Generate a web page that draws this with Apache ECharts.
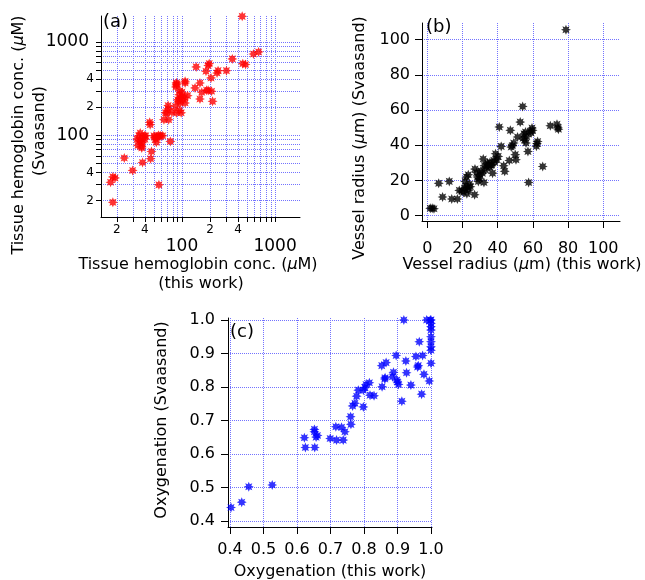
<!DOCTYPE html>
<html>
<head>
<meta charset="utf-8">
<script src="https://cdn.jsdelivr.net/npm/echarts@6/dist/echarts.min.js"></script>
<style>
    html, body { margin: 0; padding: 0; background: #fff; }
    #chart { width: 645px; height: 580px; }
</style>
</head>
<body>
<div id="chart"></div>
<script>
// MARK: - Data

// (a) tissue hemoglobin conc. (uM), this work vs Svaasand
const hbThisWork = [17.1, 18.1, 19.1, 18.1, 24, 29.5, 37.7, 46, 47, 56.5, 75,
    33, 33.6, 34.5, 35.6, 36, 36.7, 37, 37.5, 38.5, 39.5, 40.8, 40, 35,
    50, 52, 53, 54, 57, 59, 62, 51, 56,
    45, 45.5, 64, 72, 66.5, 69, 71, 71, 78, 85, 87, 94, 98, 96, 108,
    87, 87, 88, 86, 93, 96, 100, 103, 107, 115, 95, 100, 90, 92,
    108, 108, 156, 138, 156, 163, 184, 191, 208, 213, 205, 181, 142, 196, 191, 244, 238, 300, 347, 450, 481, 585, 665, 443];
const hbSvaasand = [31.3, 35.8, 34.9, 19.1, 57, 42, 51, 56, 67, 29.4, 86,
    91, 78, 99, 106, 85, 76, 73, 83, 95, 99, 99, 91, 88,
    99, 91, 84, 97, 97, 99, 99, 95, 100,
    138, 130, 147, 147, 174, 174, 192, 208, 177, 205, 174, 185, 174, 222, 222,
    347, 365, 355, 330, 272, 250, 262, 240, 255, 266, 300, 290, 240, 231,
    379, 364, 364, 322, 245, 289, 303, 303, 296, 231, 412, 485, 541, 586, 560, 493, 466, 493, 659, 586, 573, 745, 783, 1884];

// (b) vessel radius (um)
const radiusThisWork = [1.7, 2.8, 3.8, 6.5, 8.7, 12.5, 13.9, 17.1,
    18.2, 19.7, 20.5, 21.2, 21.5, 22.0, 22.3, 22.8, 23.3, 23.5, 24.0, 24.5, 22.5,
    26.9, 27.1, 28.0, 28.5, 29.0, 29.5, 29.9, 30.5, 31.3, 31.8, 32.2, 32.5, 33.1, 33.7, 34.3, 34.7, 35.2, 35.6, 36.2, 36.6,
    37.1, 37.8, 38.4, 38.8, 39.5, 40.3, 40.9, 42.0, 43.4, 44.0, 46.6, 47.2, 47.7, 48.3, 49.1, 50.0, 50.4, 51.3, 52.8, 54.2,
    54.5, 55.0, 55.3, 55.8, 56.1, 56.5, 57.2, 57.6, 58.5, 59.0, 59.5, 59.8, 62.0, 62.3, 62.7, 65.6, 69.9, 73.7, 74.2, 74.5, 78.8];
const radiusSvaasand = [4.2, 4.2, 4.0, 18.4, 10.6, 19.5, 9.5, 9.5,
    14.4, 14.0, 13.4, 15.5, 19.5, 17.0, 22.0, 16.0, 23.3, 14.5, 18.0, 16.5, 12.5,
    11.9, 26.5, 24.5, 22.0, 19.5, 21.0, 23.3, 25.5, 24.2, 32.2, 18.9, 28.5, 26.0, 28.0, 30.0, 29.0, 27.5, 30.3, 28.5, 29.0,
    24.2, 31.5, 30.3, 35.2, 32.0, 33.7, 50.4, 39.4, 28.4, 25.2, 31.4, 48.5, 39.0, 39.8, 41.3, 34.7, 31.8, 44.7, 53.2, 62.1,
    44.0, 46.5, 43.0, 47.5, 41.3, 45.0, 36.5, 18.9, 48.0, 47.0, 49.8, 48.5, 39.5, 41.0, 42.2, 28.0, 51.1, 52.0, 50.0, 49.2, 105.7];

// (c) oxygenation
const oxyThisWork = [0.403, 0.435, 0.456, 0.526, 0.622, 0.625, 0.652, 0.652, 0.653, 0.657,
    0.661, 0.699, 0.716, 0.718, 0.733, 0.738, 0.743, 0.760, 0.761, 0.766,
    0.773, 0.778, 0.783, 0.798, 0.798, 0.803, 0.806, 0.816, 0.818, 0.830,
    0.853, 0.854, 0.863, 0.866, 0.862, 0.885, 0.888, 0.896, 0.898, 0.903,
    0.900, 0.913, 0.919, 0.925, 0.927, 0.940, 0.955, 0.962, 0.960, 0.965,
    0.972, 0.975, 0.979, 0.987, 0.995, 0.998, 1.0, 1.0, 1.0, 1.0, 1.0, 1.0, 1.0, 1.0, 1.0];
const oxySvaasand = [0.441, 0.457, 0.503, 0.508, 0.649, 0.620, 0.674, 0.667, 0.620, 0.651,
    0.656, 0.647, 0.682, 0.642, 0.680, 0.642, 0.667, 0.712, 0.689, 0.744,
    0.752, 0.773, 0.791, 0.741, 0.791, 0.798, 0.808, 0.813, 0.776, 0.774,
    0.864, 0.801, 0.828, 0.873, 0.824, 0.831, 0.844, 0.894, 0.821, 0.808,
    0.815, 0.758, 1.0, 0.878, 0.843, 0.806, 0.891, 0.864, 0.860, 0.935,
    0.779, 0.894, 0.838, 1.0, 0.818, 1.0, 1.0, 0.99, 0.98, 0.97, 0.95, 0.935, 0.92, 0.91, 0.871];

// tick positions / labels
const logGridTicks = [20, 30, 40, 50, 60, 70, 80, 90, 100, 200, 300, 400, 500, 600, 700, 800, 900, 1000];
const logLabels = [20, 40, 100, 200, 400, 1000];
const logDecades = [100, 1000];
const radiusTicks = [0, 20, 40, 60, 80, 100];
const oxyTicks = [0.4, 0.5, 0.6, 0.7, 0.8, 0.9, 1.0];


// MARK: - Styles

const FONT = 'DejaVu Sans';
const STAR = 'path://M20 10 L15.08 12.1 L17.07 17.07 L12.1 15.08 L10 20 L7.9 15.08 L2.93 17.07 L4.92 12.1 L0 10 L4.92 7.9 L2.93 2.93 L7.9 4.92 L10 0 L12.1 4.92 L17.07 2.93 L15.08 7.9 Z';
const GRID_BLUE = '#7373ff';

function blackLine() {
    return {color: '#000', width: 1};
}

function gridLine() {
    return {show: true, lineStyle: {color: GRID_BLUE, type: 'dotted', width: 1, opacity: 1}};
}


// MARK: - Axis builders

function zip(xs, ys) {
    return xs.map((x, i) => [x, ys[i]]);
}

function logDataAxis(gridIndex, min, max) {
    return {type: 'log', logBase: 10, gridIndex: gridIndex, min: min, max: max, show: false};
}

// value axis in log10 units on its own overlay grid: ticks, labels and grid lines of panel (a)
function logDecorAxis(dim, gridIndex, min, max) {
    let isX = dim === 'x';
    return {
        type: 'value',
        gridIndex: gridIndex,
        min: Math.log10(min),
        max: Math.log10(max),
        axisLine: {show: true, onZero: false, lineStyle: blackLine()},
        axisTick: {show: true, length: 5, customValues: logGridTicks.map(v => Math.log10(v)), lineStyle: blackLine()},
        axisLabel: {
            customValues: logLabels.map(v => Math.log10(v)),
            hideOverlap: false,
            formatter: v => {
                let n = Math.round(Math.pow(10, v));
                let s = String(n);
                // decades get the big label, the rest only show their leading digit
                return logDecades.indexOf(n) >= 0 ? '{maj|' + s + '}' : '{min|' + s.charAt(0) + '}';
            },
            margin: 7,
            color: '#000',
            rich: {
                maj: {fontFamily: FONT, fontSize: 17, color: '#000', padding: isX ? [14, 0, 0, 0] : [0, 5, 0, 0]},
                min: {fontFamily: FONT, fontSize: 12, color: '#000'}
            }
        },
        splitLine: gridLine()
    };
}

function linearAxis(gridIndex, min, max, ticks, margin, digits) {
    return {
        type: 'value',
        gridIndex: gridIndex,
        min: min,
        max: max,
        axisLine: {show: true, onZero: false, lineStyle: blackLine()},
        axisTick: {show: true, length: 7, customValues: ticks, lineStyle: blackLine()},
        axisLabel: {
            customValues: ticks,
            formatter: v => v.toFixed(digits),
            fontFamily: FONT, fontSize: 16, margin: margin, color: '#000'
        },
        splitLine: gridLine()
    };
}

function label(text, x, y, size, rotate) {
    return {
        type: 'text',
        x: x, y: y,
        rotation: rotate ? Math.PI / 2 : 0,
        style: {
            text: text,
            fill: '#000',
            fontFamily: FONT,
            fontSize: size,
            align: 'center',
            verticalAlign: 'middle',
            rich: {i: {fontStyle: 'italic', fontFamily: FONT, fontSize: size, fill: '#000'}}
        }
    };
}

function panelTag(text, x, y) {
    return {
        type: 'text', x: x, y: y, z: 10,
        style: {text: text, fill: '#000', fontFamily: FONT, fontSize: 18, align: 'left', verticalAlign: 'middle'}
    };
}

function scatter(xi, yi, xs, ys, color) {
    return {
        type: 'scatter',
        xAxisIndex: xi,
        yAxisIndex: yi,
        data: zip(xs, ys),
        symbol: STAR,
        symbolSize: 10,
        itemStyle: {color: color},
        z: 5
    };
}


// MARK: - Chart

const A_XMIN = 13.5, A_XMAX = 1850, A_YMIN = 13.3, A_YMAX = 1900;
const gridA = {left: 101, top: 16, width: 199, height: 201};

let chart = echarts.init(document.getElementById('chart'), null, {renderer: 'canvas'});

let option = {
    animation: false,
    backgroundColor: '#fff',
    grid: [
        Object.assign({}, gridA),
        {left: 422, top: 23, width: 198, height: 198},
        {left: 228, top: 318, width: 204, height: 209},
        Object.assign({}, gridA)
    ],
    xAxis: [
        logDataAxis(0, A_XMIN, A_XMAX),
        linearAxis(1, -3, 109.5, radiusTicks, 20, 0),
        linearAxis(2, 0.394, 1.003, oxyTicks, 15, 1),
        logDecorAxis('x', 3, A_XMIN, A_XMAX)
    ],
    yAxis: [
        logDataAxis(0, A_YMIN, A_YMAX),
        linearAxis(1, -3, 109.5, radiusTicks, 12, 0),
        linearAxis(2, 0.383, 1.006, oxyTicks, 13, 1),
        logDecorAxis('y', 3, A_YMIN, A_YMAX)
    ],
    graphic: [
        panelTag('(a)', 103, 22),
        panelTag('(b)', 426, 27),
        panelTag('(c)', 230, 332),
        label('Tissue hemoglobin conc. ({i|µ}M)', 198, 265, 16, false),
        label('(this work)', 201, 284, 16, false),
        label('Tissue hemoglobin conc. ({i|µ}M)', 19, 135, 16, true),
        label('(Svaasand)', 40, 131, 16, true),
        label('Vessel radius ({i|µ}m) (this work)', 522, 265, 16, false),
        label('Vessel radius ({i|µ}m) (Svaasand)', 360, 138, 16, true),
        label('Oxygenation (this work)', 330, 572, 16, false),
        label('Oxygenation (Svaasand)', 162, 420, 16, true)
    ],
    series: [
        scatter(0, 0, hbThisWork, hbSvaasand, '#ff0000'),
        scatter(1, 1, radiusThisWork, radiusSvaasand, '#000000'),
        scatter(2, 2, oxyThisWork, oxySvaasand, '#0000ff')
    ]
};

option && chart.setOption(option);
</script>
</body>
</html>
